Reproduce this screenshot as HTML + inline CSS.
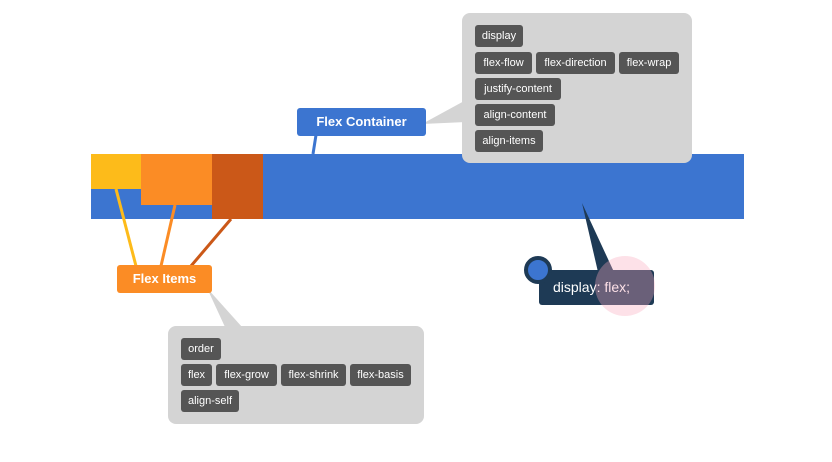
<!DOCTYPE html>
<html><head><style>
body{margin:0;width:832px;height:462px;background:#fff;position:relative;overflow:hidden;font-family:"Liberation Sans",sans-serif}
.a{position:absolute}
.t{position:absolute;background:#555;color:#fff;font-size:11px;height:22px;line-height:22px;border-radius:3px;text-align:center;box-sizing:border-box}
.lbl{position:absolute;color:#fff;font-weight:bold;font-size:13px;text-align:center;border-radius:3px}
</style></head><body>
<div class="a" style="left:91px;top:154px;width:653px;height:65px;background:#3c75d0"></div>
<div class="a" style="left:91px;top:154px;width:50px;height:35px;background:#fdbb1a"></div>
<div class="a" style="left:141px;top:154px;width:71px;height:51px;background:#fb8c25"></div>
<div class="a" style="left:212px;top:154px;width:51px;height:65px;background:#cb5818"></div>
<svg class="a" style="left:0;top:0" width="832" height="462">
<line x1="116" y1="189" x2="136" y2="266" stroke="#fdbb1a" stroke-width="3"/>
<line x1="175" y1="205" x2="161" y2="266" stroke="#fb8c25" stroke-width="3"/>
<line x1="231" y1="219" x2="191" y2="266" stroke="#cb5818" stroke-width="3"/>
<line x1="316" y1="135" x2="313" y2="154" stroke="#3c75d0" stroke-width="3"/>
<polygon points="422,124 466,100 466,122" fill="#d4d4d4"/>
<polygon points="207,288 225,327 242,327" fill="#d4d4d4"/>
<polygon points="582,203 598,272 614,272" fill="#1e3a55"/>
</svg>
<div class="lbl" style="left:297px;top:108px;width:129px;height:28px;line-height:28px;background:#3c75d0">Flex Container</div>
<div class="lbl" style="left:117px;top:265px;width:95px;height:28px;line-height:28px;background:#fb8c25">Flex Items</div>
<div class="a" style="left:462px;top:13px;width:230px;height:150px;background:#d4d4d4;border-radius:8px"></div>
<div class="t" style="left:475px;top:25px;width:48px">display</div>
<div class="t" style="left:475px;top:52px;width:57px">flex-flow</div>
<div class="t" style="left:536px;top:52px;width:79px">flex-direction</div>
<div class="t" style="left:619px;top:52px;width:60px">flex-wrap</div>
<div class="t" style="left:475px;top:78px;width:86px">justify-content</div>
<div class="t" style="left:475px;top:104px;width:80px">align-content</div>
<div class="t" style="left:475px;top:130px;width:68px">align-items</div>
<div class="a" style="left:168px;top:326px;width:256px;height:98px;background:#d4d4d4;border-radius:8px"></div>
<div class="t" style="left:181px;top:338px;width:40px">order</div>
<div class="t" style="left:181px;top:364px;width:31px">flex</div>
<div class="t" style="left:216px;top:364px;width:61px">flex-grow</div>
<div class="t" style="left:281px;top:364px;width:65px">flex-shrink</div>
<div class="t" style="left:350px;top:364px;width:61px">flex-basis</div>
<div class="t" style="left:181px;top:390px;width:58px">align-self</div>
<div class="a" style="left:539px;top:270px;width:115px;height:35px;background:#1e3a55;border-radius:3px;color:#fff;font-size:14px;line-height:35px;padding-left:14px;box-sizing:border-box">display: flex;</div>
<div class="a" style="left:595px;top:256px;width:60px;height:60px;border-radius:50%;background:rgba(250,170,190,0.35)"></div>
<div class="a" style="left:524px;top:256px;width:20px;height:20px;border-radius:50%;background:#3c75d0;border:4px solid #1e3a55"></div>
</body></html>
